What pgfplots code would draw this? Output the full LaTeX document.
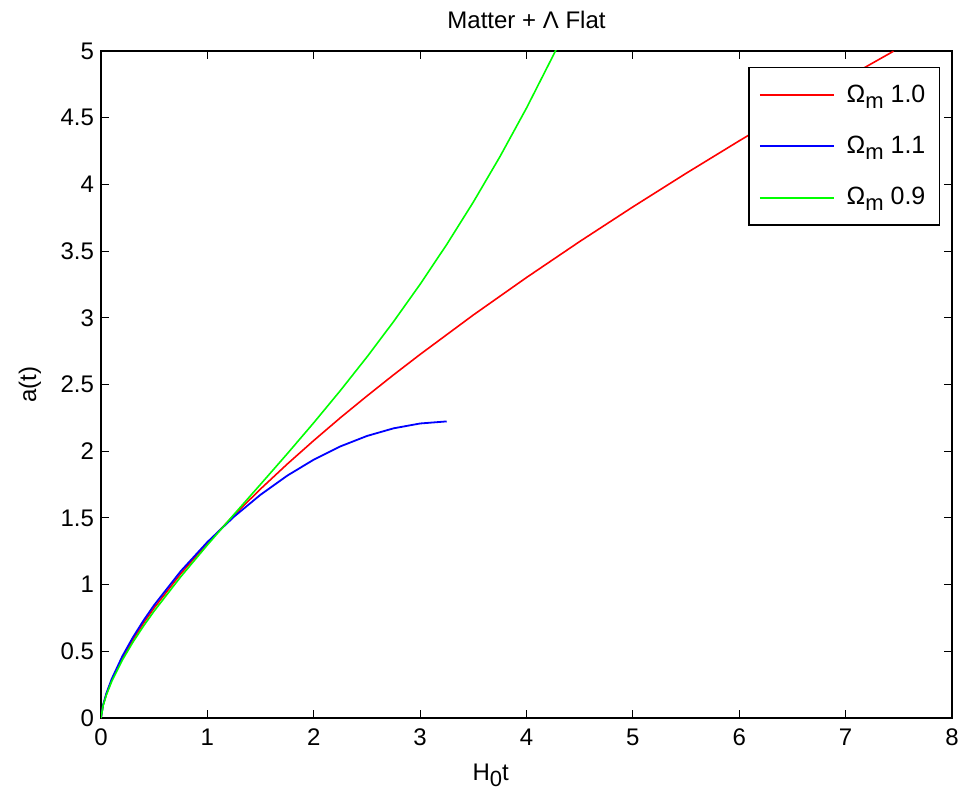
\documentclass[border=0pt]{standalone}
\usepackage{pgfplots}
\pgfplotsset{compat=1.18}
\usepackage{fontspec}
\setmainfont{Liberation Sans}
\newcommand{\sub}[1]{\raisebox{-0.45ex}{\fontsize{11}{12}\selectfont #1}}
\begin{document}
\begin{tikzpicture}
\begin{axis}[
  scale only axis,
  width=425.5pt, height=333.5pt,
  xmin=0, xmax=8, ymin=0, ymax=5,
  xtick={0,1,...,8},
  ytick={0,0.5,...,5},
  tick align=inside,
  tick pos=both,
  major tick length=4pt,
  tick style={black, line width=0.5pt},
  axis line style={black, line width=0.6pt},
  /pgf/number format/assume math mode=true,
  ticklabel style={font=\fontsize{12}{14}\selectfont},
  xticklabel style={yshift=-2pt},
  title={Matter + Λ Flat},
  title style={font=\fontsize{12}{14}\selectfont, at={(axis description cs:0.5,1)}, anchor=base, yshift=5pt},
  xlabel={H\sub{0}t},
  xlabel style={font=\fontsize{12}{14}\selectfont, at={(axis description cs:0.458,0)}, anchor=center, yshift=-28.5pt},
  ylabel={a(t)},
  ylabel style={font=\fontsize{12}{14}\selectfont, at={(axis description cs:-0.0834,0.5)}, anchor=center},
  legend style={at={(0.9859,0.976)}, anchor=north east, draw=black, line width=0.6pt, fill=white,
    font=\fontsize{12.5}{15}\selectfont, row sep=11.5pt, inner xsep=5pt, inner ysep=6.5pt},
  legend cell align=left,
  legend image code/.code={\draw[#1, line width=0.8pt] (0pt,0pt) -- (37pt,0pt);},
]
\addplot[color={rgb,1:red,1;green,0;blue,0}, line width=0.8pt] coordinates {
(0,0) (0.02,0.0966) (0.05,0.1778) (0.1,0.2823) (0.2,0.4481) (0.3,0.5872) (0.4,0.7114)
(0.5,0.8256) (0.75,1.0817) (1.0,1.3104) (1.25,1.5205) (1.5,1.7171) (1.75,1.9030)
(2.0,2.0801) (2.25,2.2506) (2.5,2.4137) (2.75,2.5722) (3.0,2.7257) (3.5,3.0210) (4.0,3.3019) (4.5,3.5717)
(5.0,3.8314) (5.5,4.0828) (6.0,4.3267) (6.5,4.5638) (7.0,4.7952) (7.45,4.9983)
};
\addlegendentry{\hspace{4pt}Ω\sub{m} 1.0}
\addplot[color={rgb,1:red,0;green,0;blue,1}, line width=0.9pt] coordinates {
(0,0) (0.02,0.0997) (0.05,0.1835) (0.1,0.2913) (0.2,0.4621) (0.3,0.6048) (0.4,0.7314)
(0.5,0.8468) (0.75,1.1010) (1.0,1.3190) (1.25,1.5088) (1.5,1.6739) (1.75,1.8163)
(2.0,1.9367) (2.25,2.0360) (2.5,2.1141) (2.75,2.1714) (3.0,2.2078) (3.25,2.2234)
};
\addlegendentry{\hspace{4pt}Ω\sub{m} 1.1}
\addplot[color={rgb,1:red,0;green,1;blue,0}, line width=0.8pt] coordinates {
(0,0) (0.02,0.0932) (0.05,0.1717) (0.1,0.2726) (0.2,0.4331) (0.3,0.5683) (0.4,0.6897)
(0.5,0.8019) (0.75,1.0591) (1.0,1.2969) (1.25,1.5259) (1.5,1.7522) (1.75,1.9801)
(2.0,2.2132) (2.25,2.4544) (2.5,2.7062) (2.75,2.9712) (3.0,3.2515) (3.25,3.5494)
(3.5,3.8673) (3.75,4.2076) (4.0,4.5723) (4.25,4.9648) (4.3,5.0466)
};
\addlegendentry{\hspace{4pt}Ω\sub{m} 0.9}
\end{axis}
\pgfresetboundingbox
\path ([shift={(-50.5pt,-39pt)}]current axis.south west) rectangle ([shift={(11.5pt,25.5pt)}]current axis.north east);
\end{tikzpicture}
\end{document}
